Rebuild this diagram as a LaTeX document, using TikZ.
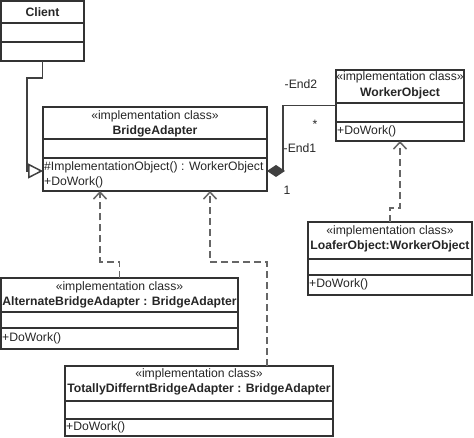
\documentclass[tikz,border=0pt]{standalone}
\usepackage{fontspec}
\setmainfont{Liberation Sans}
\usetikzlibrary{arrows.meta}
\tikzstyle{genA}=[-{Triangle[open,length=15pt,width=15pt]}]

\begin{document}
\begin{tikzpicture}[x=1pt,y=-1pt,font=\fontsize{12.2}{14}\selectfont,text=black!85]
  \tikzstyle classS=[draw=black!80,line width=1.3pt,inner sep=0pt,outer sep=0pt];
  \tikzstyle linkS=[draw=black!75,line width=1.5pt];
  \tikzstyle realS=[linkS,draw=black!60,dash pattern=on 7pt off 4pt,-{Straight Barb[length=7pt,width=13pt]}];
  \tikzstyle compS=[linkS,{Diamond[length=18pt,width=12pt]}-];
  \useasboundingbox (0,0) rectangle (474,438);
  \foreach \cn/\cx/\cy/\cw/\ch/\da/\db in {
    client/1/1/83/60/23/42,
    bridge/43/107/224/84/139/158,
    worker/336/70/128/71/103/122,
    loafer/308/222/164/73/259/275,
    alternate/1/278/237/71/312/328,
    totally/65/366/268/70/401/419}
  {
    \node[classS,minimum width=\cw pt,minimum height=\ch pt] (\cn) at (\cx+\cw/2,\cy+\ch/2) {};
    \draw[classS] (\cx,\da) -- +(\cw,0) (\cx,\db) -- +(\cw,0);
  }
  \node[font=\fontsize{12.2}{14}\selectfont\bfseries] (client-nm) at (client.north |- 0,12) {Client};
  \foreach \cn/\sy/\ny/\ctext in {
    bridge/116/131/BridgeAdapter,
    worker/77/93/WorkerObject,
    loafer/231/246/LoaferObject:WorkerObject,
    alternate/287/302/AlternateBridgeAdapter : BridgeAdapter,
    totally/374/389/TotallyDifferntBridgeAdapter : BridgeAdapter}
  {
    \node (\cn-st) at (\cn.north |- 0,\sy) {«implementation class»};
    \node[font=\fontsize{12.2}{14}\selectfont\bfseries] (\cn-nm) at (\cn.north |- 0,\ny) {\ctext};
  }
  \foreach \cn/\my in {bridge/182,worker/131,loafer/284,alternate/338,totally/427}
  {
    \node[anchor=west,inner sep=1pt] (\cn-op) at (\cn.west |- 0,\my) {+DoWork()};
  }
  \node[anchor=west,inner sep=1pt] (bridge-io) at (bridge.west |- 0,167) {\#ImplementationObject() : WorkerObject};

  \coordinate (cbend) at (27,78);
  \draw[linkS,genA] (client.south) |- (cbend) |- ([yshift=-22pt]bridge.west);
  \draw[compS] ([yshift=-22pt]bridge.east) -- ++(16,0) |- (worker.west);
  \node (end2) at (301,84) {-End2};
  \node (mstar) at (315,124) {*};
  \node (end1) at (300,148) {-End1};
  \node (mone) at (287,190) {1};

  \draw[realS] (loafer.north) -- ++(0,-14) -| (worker.south);
  \draw[realS] (alternate.north) -- ++(0,-16) -| ([xshift=57pt]bridge.south west);
  \draw[realS] ([xshift=68pt]totally.north) -- ++(0,-104) -| ([xshift=167pt]bridge.south west);
\end{tikzpicture}
\end{document}
